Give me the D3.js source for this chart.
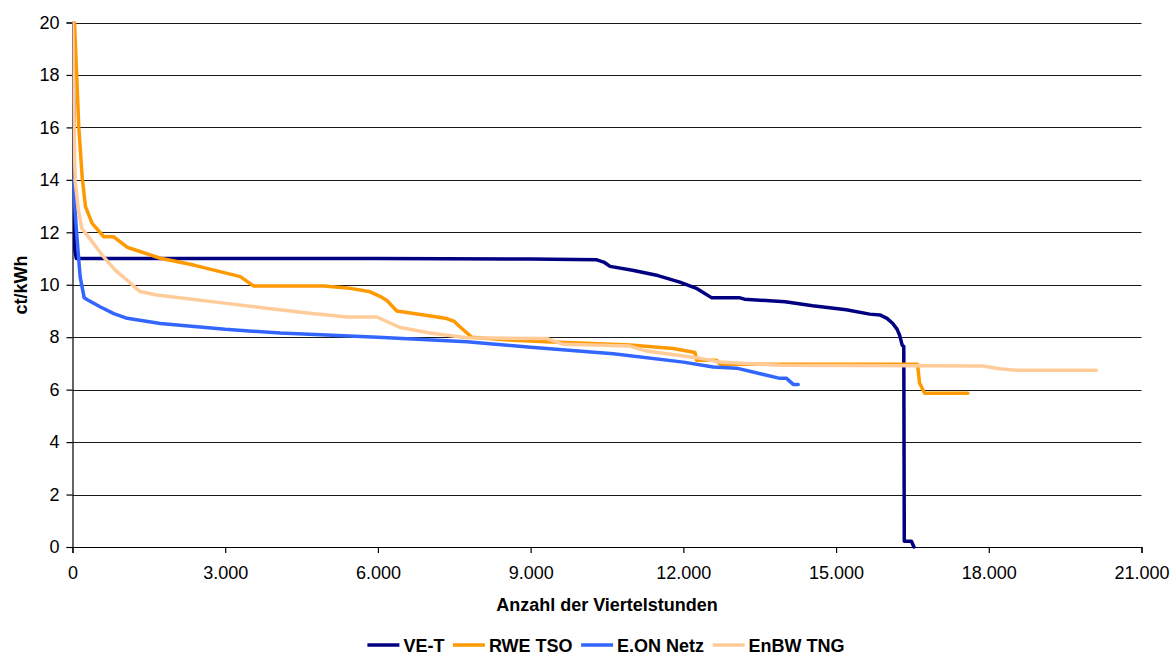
<!DOCTYPE html>
<html>
<head>
<meta charset="utf-8">
<script src="https://cdn.jsdelivr.net/npm/d3@7"></script>
<style>
  html, body { margin: 0; padding: 0; background: #fff; }
  svg { display: block; font-family: "Liberation Sans", Arial, sans-serif; }
</style>
</head>
<body>
<svg id="chart" width="1173" height="655"></svg>
<script>
// Duration curves: price (ct/kWh) over the number of quarter hours, per TSO
const seriesNames = ["VE-T", "RWE TSO", "E.ON Netz", "EnBW TNG"];
const seriesColors = ["#000080", "#FF9900", "#3366FF", "#FFCC99"];

const veT = [
  [0, 20], [30, 16], [45, 11.35], [75, 11.0], [2000, 11.0], [6000, 11.0],
  [9000, 10.98], [10300, 10.95], [10450, 10.85], [10560, 10.7], [11000, 10.55],
  [11500, 10.35], [11930, 10.1], [12270, 9.85], [12560, 9.5], [13110, 9.5],
  [13200, 9.45], [14000, 9.35], [14540, 9.2], [15200, 9.05], [15660, 8.88],
  [15860, 8.85], [16000, 8.72], [16110, 8.53], [16200, 8.3], [16250, 8.07],
  [16300, 7.69], [16330, 7.65], [16340, 0.22], [16480, 0.22], [16530, 0.0]
];

const rweTso = [
  [40, 20], [124, 16.0], [190, 14.1], [255, 12.98], [386, 12.34], [615, 11.83],
  [811, 11.83], [1073, 11.43], [1727, 11.01], [2381, 10.75], [3297, 10.31],
  [3560, 9.95], [4933, 9.95], [5400, 9.88], [5849, 9.73], [6050, 9.55],
  [6176, 9.4], [6372, 9.0], [7000, 8.82], [7354, 8.71], [7500, 8.6],
  [7615, 8.39], [7845, 8.0], [8500, 7.9], [9316, 7.83], [10951, 7.7],
  [11802, 7.57], [12228, 7.42], [12260, 7.12], [12652, 7.12], [12720, 6.97],
  [16600, 6.97], [16640, 6.25], [16740, 5.86], [17590, 5.86]
];

const eonNetz = [
  [0, 14.0], [20, 13.7], [80, 12.0], [150, 10.3], [230, 9.5], [300, 9.42],
  [550, 9.15], [811, 8.9], [1073, 8.72], [1727, 8.52], [3000, 8.3],
  [4082, 8.16], [6000, 8.0], [7747, 7.83], [9000, 7.62], [10624, 7.37],
  [12000, 7.05], [12587, 6.86], [13046, 6.82], [13896, 6.43], [14027, 6.43],
  [14158, 6.2], [14256, 6.2]
];

const enbwTng = [
  [0, 20], [25, 17], [50, 14.0], [115, 12.85], [184, 12.15], [412, 11.58],
  [608, 11.07], [838, 10.56], [1067, 10.18], [1325, 9.74], [1653, 9.61],
  [3027, 9.29], [4661, 8.91], [5391, 8.77], [5980, 8.77], [6438, 8.37],
  [7026, 8.16], [7747, 7.98], [9316, 7.95], [9643, 7.73], [10951, 7.66],
  [11278, 7.47], [12260, 7.22], [12718, 7.05], [13896, 6.93], [17886, 6.9],
  [18214, 6.8], [18541, 6.74], [20112, 6.74]
];

const allSeries = [veT, rweTso, eonNetz, enbwTng];

const yTicks = [0, 2, 4, 6, 8, 10, 12, 14, 16, 18, 20];
const xTicks = [0, 3000, 6000, 9000, 12000, 15000, 18000, 21000];
const xTickLabels = ["0", "3.000", "6.000", "9.000", "12.000", "15.000", "18.000", "21.000"];

const svg = d3.select("#chart");
const x = d3.scaleLinear().domain([0, 21000]).range([72.5, 1141.5]);
const y = d3.scaleLinear().domain([0, 20]).range([547, 22.5]);
const fontSize = 18;

// horizontal gridlines
svg.append("g").selectAll("line")
  .data(yTicks.filter(d => d > 0))
  .join("line")
  .attr("x1", x(0)).attr("x2", x(21000))
  .attr("y1", d => Math.round(y(d)) + 0.5).attr("y2", d => Math.round(y(d)) + 0.5)
  .attr("stroke", "#1a1a1a").attr("stroke-width", 1.2);

// y axis
const yAxis = svg.append("g").attr("transform", `translate(${x(0)},0)`)
  .call(d3.axisLeft(y).tickValues(yTicks).tickSize(6).tickPadding(7)
    .tickFormat(d3.format("d")));
yAxis.select(".domain").attr("stroke", "#000").attr("stroke-width", 1.2);
yAxis.selectAll(".tick line").attr("stroke", "#000").attr("stroke-width", 1.2);
yAxis.selectAll(".tick text")
  .attr("font-size", fontSize).attr("font-family", "Liberation Sans, Arial, sans-serif")
  .attr("fill", "#000");

// x axis
const xAxis = svg.append("g").attr("transform", `translate(0,${y(0)})`)
  .call(d3.axisBottom(x).tickValues(xTicks).tickSize(6).tickPadding(13)
    .tickFormat((d, i) => xTickLabels[i]));
xAxis.select(".domain").attr("stroke", "#000").attr("stroke-width", 1.2);
xAxis.selectAll(".tick line").attr("stroke", "#000").attr("stroke-width", 1.2);
xAxis.selectAll(".tick text")
  .attr("font-size", fontSize).attr("font-family", "Liberation Sans, Arial, sans-serif")
  .attr("fill", "#000");

// clip lines to the plotting area
svg.append("clipPath").attr("id", "plotClip")
  .append("rect").attr("x", x(0)).attr("y", y(20) - 1)
  .attr("width", x(21000) - x(0)).attr("height", y(0) - y(20) + 3);

const line = d3.line().x(d => x(d[0])).y(d => y(d[1]));

svg.append("g").attr("clip-path", "url(#plotClip)")
  .selectAll("path")
  .data(allSeries)
  .join("path")
  .attr("d", line)
  .attr("fill", "none")
  .attr("stroke", (d, i) => seriesColors[i])
  .attr("stroke-width", 3.5)
  .attr("stroke-linejoin", "round")
  .attr("stroke-linecap", "round");

// axis titles
svg.append("text")
  .attr("x", 607).attr("y", 611)
  .attr("text-anchor", "middle")
  .attr("font-size", fontSize).attr("font-weight", "bold")
  .text("Anzahl der Viertelstunden");

svg.append("text")
  .attr("transform", "translate(27,285) rotate(-90)")
  .attr("text-anchor", "middle")
  .attr("font-size", fontSize).attr("font-weight", "bold")
  .text("ct/kWh");

// legend
const legend = svg.append("g");
const items = legend.selectAll("g").data(seriesNames).join("g");
items.append("line")
  .attr("x1", 0).attr("x2", 32).attr("y1", 0).attr("y2", 0)
  .attr("stroke", (d, i) => seriesColors[i]).attr("stroke-width", 3.5);
items.append("text")
  .attr("x", 36).attr("y", 6.5)
  .attr("font-size", fontSize).attr("font-weight", "bold")
  .text(d => d);

let offset = 0;
const widths = [];
items.each(function () {
  const w = 36 + d3.select(this).select("text").node().getComputedTextLength();
  widths.push(w);
});
const gap = 8.5;
const total = d3.sum(widths) + gap * (widths.length - 1);
const startX = 606 - total / 2;
items.attr("transform", (d, i) => {
  const t = `translate(${startX + offset},645)`;
  offset += widths[i] + gap;
  return t;
});
</script>
</body>
</html>
